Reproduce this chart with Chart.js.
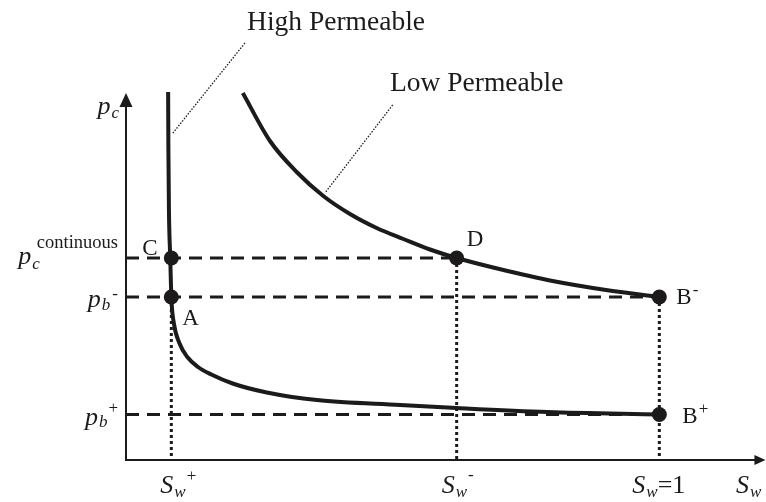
<!DOCTYPE html>
<html>
<head>
<meta charset="utf-8">
<script src="https://cdn.jsdelivr.net/npm/chart.js@4/dist/chart.umd.min.js"></script>
<style>
  html, body { margin: 0; padding: 0; background: #fff; }
  canvas { display: block; }
</style>
</head>
<body>
<canvas id="pcChart" width="766" height="502"></canvas>
<script>
// Schematic capillary pressure curves (arbitrary units, Sw = 1 at x = 1)
const satNames = ['Sw+', 'Sw-', 'Sw=1'];
const satValues = [0.085, 0.62, 1.0];

const levelNames = ['pc continuous', 'pb-', 'pb+'];
const levelValues = [2.02, 1.63, 0.455];

// High permeable curve
const highX = [0.0790, 0.0795, 0.0805, 0.0830, 0.0850, 0.0900, 0.1000, 0.1150, 0.1350, 0.1600, 0.2000, 0.2640, 0.3580, 0.5140, 0.6200, 0.7900, 1.0];
const highY = [3.68, 3.10, 2.50, 2.02, 1.63, 1.36, 1.17, 1.03, 0.93, 0.855, 0.765, 0.675, 0.60, 0.55, 0.52, 0.48, 0.455];

// Low permeable curve
const lowX = [0.219, 0.270, 0.320, 0.370, 0.420, 0.470, 0.520, 0.570, 0.620, 0.700, 0.800, 0.900, 1.0];
const lowY = [3.67, 3.19, 2.88, 2.64, 2.46, 2.32, 2.21, 2.105, 2.02, 1.91, 1.79, 1.70, 1.63];

// Marked points
const pointNames = ['C', 'A', 'D', 'B-', 'B+'];
const pointX = [0.085, 0.085, 0.62, 1.0, 1.0];
const pointY = [2.02, 1.63, 2.02, 1.63, 0.455];

// Leader lines from curve names to curves
const leaderNames = ['High Permeable', 'Low Permeable'];
const leaderX = [[0.223, 0.088], [0.500, 0.373]];
const leaderY = [[4.17, 3.27], [3.55, 2.67]];

const ink = '#1c1a1b';
const serif = '"Liberation Serif", "Times New Roman", serif';

function xy(xs, ys) {
    return xs.map((v, i) => ({x: v, y: ys[i]}));
}

function guide(xs, ys, dash, width) {
    return {
        data: xy(xs, ys),
        showLine: true,
        borderColor: ink,
        borderWidth: width,
        borderDash: dash,
        pointRadius: 0,
        fill: false,
        clip: false,
        order: 3
    };
}

const datasets = [];

// dashed horizontal guides: to D for pc continuous, to Sw=1 for the others
const dashEnds = [satValues[1], satValues[2], satValues[2]];
levelValues.forEach((lv, i) => {
    datasets.push(guide([0, dashEnds[i]], [lv, lv], [13, 8], 3));
});

// dotted vertical guides
const dotTops = [levelValues[1], levelValues[0], levelValues[1]];
satValues.forEach((sv, i) => {
    datasets.push(guide([sv, sv], [dotTops[i], 0], [3, 3], 3));
});

// leader lines
leaderX.forEach((lx, i) => {
    const d = guide(lx, leaderY[i], [1.5, 1.5], 1.3);
    d.order = 2;
    datasets.push(d);
});

// curves
[[highX, highY], [lowX, lowY]].forEach(c => {
    datasets.push({
        data: xy(c[0], c[1]),
        showLine: true,
        borderColor: ink,
        borderWidth: 4,
        cubicInterpolationMode: 'monotone',
        pointRadius: 0,
        fill: false,
        clip: false,
        order: 1
    });
});

// points
datasets.push({
    data: xy(pointX, pointY),
    showLine: false,
    pointRadius: 7.5,
    pointBackgroundColor: ink,
    pointBorderColor: ink,
    pointBorderWidth: 0,
    clip: false,
    order: 0
});

function rich(ctx, x, y, parts, align) {
    let w = 0;
    parts.forEach(p => { ctx.font = p[1]; w += ctx.measureText(p[0]).width + (p[3] || 0); });
    let cx = align === 'right' ? x - w : (align === 'center' ? x - w / 2 : x);
    parts.forEach(p => {
        ctx.font = p[1];
        cx += (p[3] || 0);
        ctx.fillText(p[0], cx, y + (p[2] || 0));
        cx += ctx.measureText(p[0]).width;
    });
}

const BIG = 'italic 26px ' + serif;
const SUB = 'italic 17px ' + serif;
const SUP = '17px ' + serif;
const LAB = '23px ' + serif;
const NAME = '27.5px ' + serif;

const decor = {
    id: 'decor',
    beforeDatasetsDraw(chart) {
        const {ctx, scales: {x, y}, chartArea: a} = chart;
        const top = y.getPixelForValue(3.67);
        const right = x.getPixelForValue(1.199);
        ctx.save();
        ctx.strokeStyle = ink;
        ctx.fillStyle = ink;
        ctx.lineWidth = 2;
        ctx.beginPath();
        ctx.moveTo(a.left, top + 10);
        ctx.lineTo(a.left, a.bottom);
        ctx.lineTo(right - 8, a.bottom);
        ctx.stroke();
        // arrow heads
        ctx.beginPath();
        ctx.moveTo(a.left, top);
        ctx.lineTo(a.left - 6.5, top + 14);
        ctx.lineTo(a.left + 6.5, top + 14);
        ctx.closePath();
        ctx.fill();
        ctx.beginPath();
        ctx.moveTo(right, a.bottom);
        ctx.lineTo(right - 11, a.bottom - 5);
        ctx.lineTo(right - 11, a.bottom + 5);
        ctx.closePath();
        ctx.fill();
        ctx.restore();
    },
    afterDraw(chart) {
        const {ctx, scales: {x, y}, chartArea: a} = chart;
        ctx.save();
        ctx.fillStyle = ink;
        ctx.textBaseline = 'alphabetic';

        // y axis title
        rich(ctx, a.left - 7, y.getPixelForValue(3.67) + 21,
            [['p', BIG], ['c', SUB, 4, 1]], 'right');

        // level labels
        const ly = levelValues.map(v => y.getPixelForValue(v));
        rich(ctx, a.left - 8, ly[0] + 6,
            [['p', BIG], ['c', SUB, 5, 1], ['continuous', '18.5px ' + serif, -16, -3]], 'right');
        rich(ctx, a.left - 8, ly[1] + 10,
            [['p', BIG], ['b', SUB, 3, 1], ['-', SUP, -8, 2]], 'right');
        rich(ctx, a.left - 8, ly[2] + 10,
            [['p', BIG], ['b', SUB, 2, 1], ['+', SUP, -12, 1]], 'right');

        // saturation labels
        const base = a.bottom + 33;
        const sx = satValues.map(v => x.getPixelForValue(v));
        rich(ctx, sx[0] - 11, base, [['S', BIG], ['w', SUB, 4, 1], ['+', SUP, -12, 1]], 'left');
        rich(ctx, sx[1] - 15, base, [['S', BIG], ['w', SUB, 4, 1], ['-', SUP, -13, 1]], 'left');
        rich(ctx, sx[2] - 27, base, [['S', BIG], ['w', SUB, 4, 1], ['=1', '26px ' + serif, 0, 0]], 'left');
        rich(ctx, x.getPixelForValue(1.2) - 30, base, [['S', BIG], ['w', SUB, 4, 1]], 'left');

        // point labels
        const px = pointX.map(v => x.getPixelForValue(v));
        const py = pointY.map(v => y.getPixelForValue(v));
        ctx.font = LAB;
        ctx.fillText('C', px[0] - 29, py[0] - 3);
        ctx.fillText('A', px[1] + 11, py[1] + 28);
        ctx.fillText('D', px[2] + 10, py[2] - 12);
        rich(ctx, px[3] + 17, py[3] + 7, [['B', LAB], ['-', SUP, -9, 1]], 'left');
        rich(ctx, px[4] + 23, py[4] + 8, [['B', LAB], ['+', SUP, -9, 1]], 'left');

        // curve names
        ctx.font = NAME;
        ctx.fillText(leaderNames[0], x.getPixelForValue(0.227), y.getPixelForValue(4.30));
        ctx.fillText(leaderNames[1], x.getPixelForValue(0.495), y.getPixelForValue(3.69));
        ctx.restore();
    }
};

new Chart(document.getElementById('pcChart'), {
    type: 'scatter',
    data: {datasets: datasets},
    options: {
        responsive: false,
        animation: false,
        layout: {autoPadding: false, padding: {left: 126, right: 0, top: 0, bottom: 42}},
        scales: {
            x: {type: 'linear', min: 0, max: 1.2, display: false},
            y: {type: 'linear', min: 0, max: 4.6, display: false}
        },
        plugins: {
            legend: {display: false},
            tooltip: {enabled: false}
        }
    },
    plugins: [decor]
});
</script>
</body>
</html>
